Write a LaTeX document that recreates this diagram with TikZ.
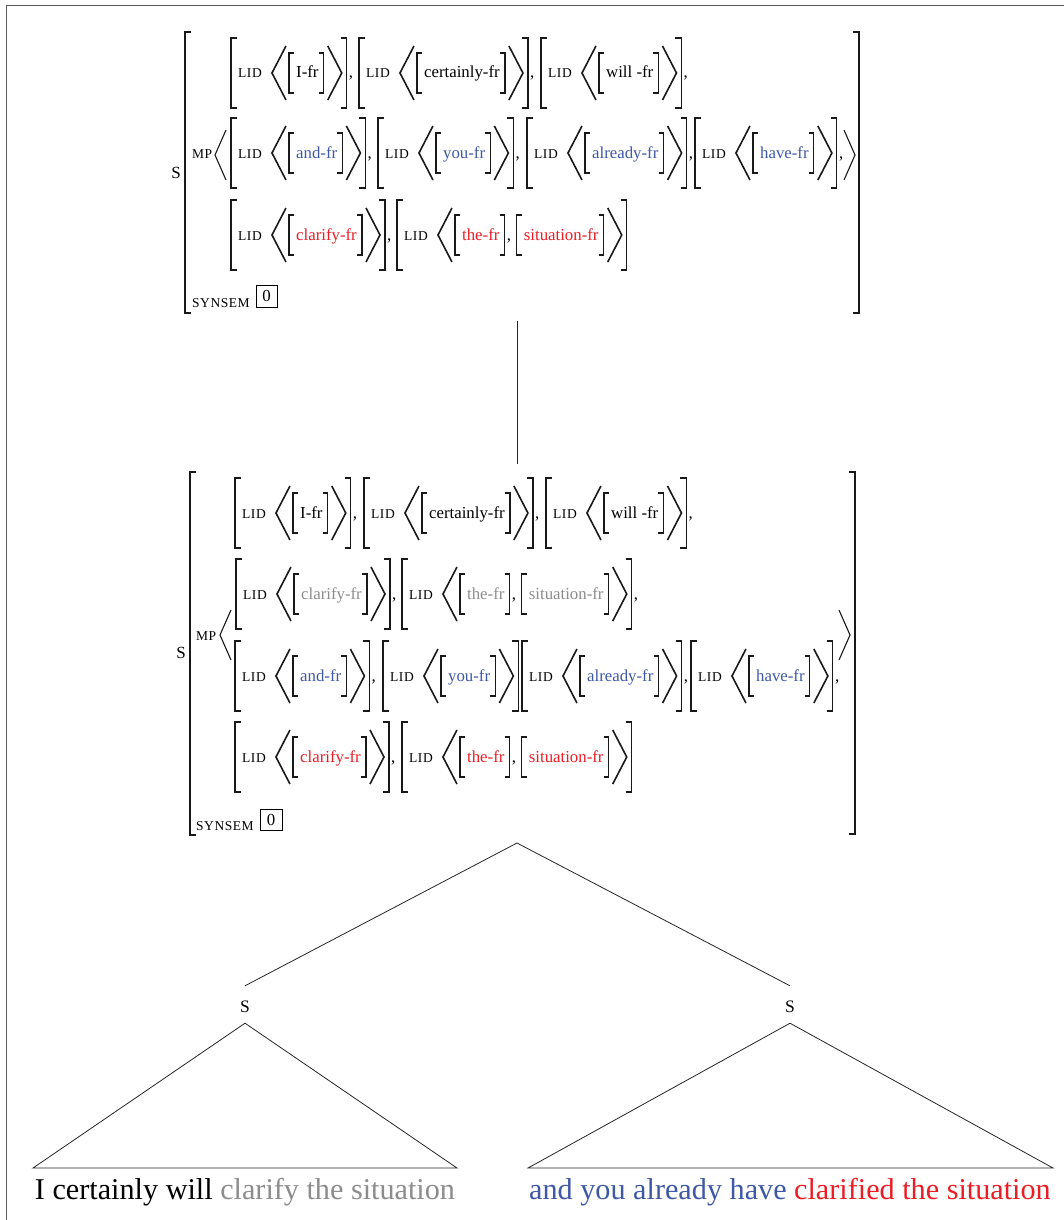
\documentclass[tikz,border=0pt]{standalone}
\usepackage{fontspec}
\setmainfont{Liberation Serif}
\newfontfamily\scfont[LetterSpace=4]{Liberation Serif}
\usetikzlibrary{calc}
\definecolor{avmblue}{RGB}{62,88,168}
\definecolor{avmred}{RGB}{237,28,36}
\definecolor{avmgray}{RGB}{140,140,140}
\tikzset{
  brk/.style={line width=1.2pt, black!90},
  ang/.style={line width=1.6pt, black!90},
  mpang/.style={line width=1.1pt, black!90},
  tree/.style={line width=0.8pt, black!85},
  wd/.style={anchor=base west, inner sep=0pt, font=\fontsize{16.8}{18}\selectfont},
  smc/.style={anchor=base west, inner sep=0pt, font=\scfont\fontsize{13.5}{14}\selectfont},
  snode/.style={inner xsep=0pt, inner ysep=14.7pt, text height=11.6pt, text depth=0pt, font=\fontsize{17.5}{18}\selectfont},
  big/.style={anchor=base, inner sep=0pt, font=\fontsize{30.2}{32}\selectfont},
}
\newcommand\brkL[3]{\draw[brk] ($(#1)+(#3,-#2)$) -- ($(#1)+(0,-#2)$) -- ($(#1)+(0,#2)$) -- ($(#1)+(#3,#2)$);}
\newcommand\brkR[3]{\draw[brk] ($(#1)+(-#3,-#2)$) -- ($(#1)+(0,-#2)$) -- ($(#1)+(0,#2)$) -- ($(#1)+(-#3,#2)$);}
\newcommand\angL[4][ang]{\draw[#1] ($(#2)+(#4,-#3)$) -- (#2) -- ($(#2)+(#4,#3)$);}
\newcommand\angR[4][ang]{\draw[#1] ($(#2)+(-#4,-#3)$) -- (#2) -- ($(#2)+(-#4,#3)$);}
\newcommand\lidhead[3]{%
  \coordinate (#1o) at (#2,#3);
  \brkL{#1o}{35}{6}
  \node[smc] (#1L) at (#2+7,#3+5) {LID};
  \coordinate (#1a) at ($(#1L.base east)+(10,-5)$);
  \angL{#1a}{27}{14}
  \coordinate (#1i) at ($(#1a)+(17,0)$);
}
\newcommand\lidtail[1]{%
  \coordinate (#1b) at ($(#1j)+(18,0)$);
  \angR{#1b}{27}{14}
  \coordinate (#1e) at ($(#1b)+(5,0)$);
  \brkR{#1e}{35}{6}
}
\newcommand\lidone[5]{%
  \lidhead{#1}{#2}{#3}
  \brkL{#1i}{20}{5}
  \node[wd,text=#5] (#1w) at ($(#1i)+(7,5)$) {#4};
  \coordinate (#1j) at ($(#1w.base east)+(5,-5)$);
  \brkR{#1j}{20}{5}
  \lidtail{#1}
}
\newcommand\lidtwo[6]{%
  \lidhead{#1}{#2}{#3}
  \brkL{#1i}{20}{5}
  \node[wd,text=#6] (#1w) at ($(#1i)+(7,5)$) {#4};
  \coordinate (#1k) at ($(#1w.base east)+(5,-5)$);
  \brkR{#1k}{20}{5}
  \node[wd] (#1cc) at ($(#1k)+(2,5)$) {,};
  \coordinate (#1m) at ($(#1k)+(12,0)$);
  \brkL{#1m}{20}{5}
  \node[wd,text=#6] (#1x) at ($(#1m)+(7,5)$) {#5};
  \coordinate (#1j) at ($(#1x.base east)+(5,-5)$);
  \brkR{#1j}{20}{5}
  \lidtail{#1}
}
\newcommand\cmm[1]{\node[wd] (#1c) at ($(#1e)+(2,5)$) {,};}
\begin{document}
\begin{tikzpicture}[x=1pt,y=-1pt]
\useasboundingbox (0,0) rectangle (1064,1220);
% frame
\draw[line width=1.6pt, black!65] (6.5,1220) -- (6.5,5.5) -- (1064,5.5);

% ===== AVM 1 =====
\node[font=\fontsize{17}{18}\selectfont, inner sep=0pt, anchor=east] (S1) at (181,172.5) {S};
\coordinate (A1l) at (185,172.5); \brkL{A1l}{140.5}{6}
\coordinate (A1r) at (859,172.5); \brkR{A1r}{140.5}{6}
% row 1
\lidone{p11}{231}{73}{I-fr}{black} \cmm{p11}
\lidone{p12}{359}{73}{certainly-fr}{black} \cmm{p12}
\lidone{p13}{541}{73}{will -fr}{black} \cmm{p13}
% row 2
\node[smc] (MP1) at (192,158) {MP};
\coordinate (m1a) at (215,155); \angL[mpang]{m1a}{25}{11}
\lidone{p21}{231}{153}{and-fr}{avmblue} \cmm{p21}
\lidone{p22}{378}{153}{you-fr}{avmblue} \cmm{p22}
\lidone{p23}{527}{153}{already-fr}{avmblue} \cmm{p23}
\lidone{p24}{695}{153}{have-fr}{avmblue} \cmm{p24}
\coordinate (m1b) at (855,155); \angR[mpang]{m1b}{25}{11}
% row 3
\lidone{p31}{231}{235}{clarify-fr}{avmred} \cmm{p31}
\lidtwo{p32}{397}{235}{the-fr}{situation-fr}{avmred}
% synsem
\node[smc] (SY1) at (192,307) {SYNSEM};
\node[draw, line width=0.9pt, minimum width=21pt, minimum height=22pt, inner sep=0pt, font=\fontsize{16.8}{18}\selectfont] (B1) at (266.5,296) {0};

% ===== AVM 2 =====
\node[font=\fontsize{17}{18}\selectfont, inner sep=0pt, anchor=east] (S2) at (186,653) {S};
\coordinate (A2l) at (190,653.5); \brkL{A2l}{181.5}{6}
\coordinate (A2r) at (855,653); \brkR{A2r}{181}{6}
% row 1
\lidone{q11}{235}{513}{I-fr}{black} \cmm{q11}
\lidone{q12}{364}{513}{certainly-fr}{black} \cmm{q12}
\lidone{q13}{546}{513}{will -fr}{black} \cmm{q13}
% MP
\node[smc] (MP2) at (196,640) {MP};
\coordinate (m2a) at (220,635); \angL[mpang]{m2a}{25}{11}
\coordinate (m2b) at (850,635); \angR[mpang]{m2b}{25}{11}
% row 2
\lidone{q21}{236}{594}{clarify-fr}{avmgray} \cmm{q21}
\lidtwo{q22}{402}{594}{the-fr}{situation-fr}{avmgray} \cmm{q22}
% row 3
\lidone{q31}{235}{676}{and-fr}{avmblue} \cmm{q31}
\lidone{q32}{383}{676}{you-fr}{avmblue}
\lidone{q33}{522}{676}{already-fr}{avmblue} \cmm{q33}
\lidone{q34}{691}{676}{have-fr}{avmblue} \cmm{q34}
% row 4
\lidone{q41}{235}{757}{clarify-fr}{avmred} \cmm{q41}
\lidtwo{q42}{402}{757}{the-fr}{situation-fr}{avmred}
% synsem
\node[smc] (SY2) at (196,830) {SYNSEM};
\node[draw, line width=0.9pt, minimum width=22pt, minimum height=21pt, inner sep=0pt, font=\fontsize{16.8}{18}\selectfont] (B2) at (271,820) {0};

% ===== connections =====
\coordinate (v1) at (517,321);
\coordinate (v2) at (517,464);
\draw[tree] (v1) -- (v2);
\coordinate (apex) at (517,843);
\node[snode] (sL) at (245,1006.5) {S};
\node[snode] (sR) at (790,1006.5) {S};
\draw[tree] (sL.north) -- (apex) -- (sR.north);

\coordinate (tL1) at (33,1168);
\coordinate (tL2) at (457,1168);
\coordinate (tR1) at (528,1168);
\coordinate (tR2) at (1053,1168);
\draw[tree] ([yshift=4pt]sL.south) -- (tL1) -- (tL2) -- cycle;
\draw[tree] ([yshift=4pt]sR.south) -- (tR1) -- (tR2) -- cycle;

\node[big] (wL) at (245,1199) {I certainly will \textcolor{avmgray}{clarify the situation}};
\node[big] (wR) at (790,1199) {\textcolor{avmblue}{and you already have} \textcolor{avmred}{clarified the situation}};
\end{tikzpicture}
\end{document}
